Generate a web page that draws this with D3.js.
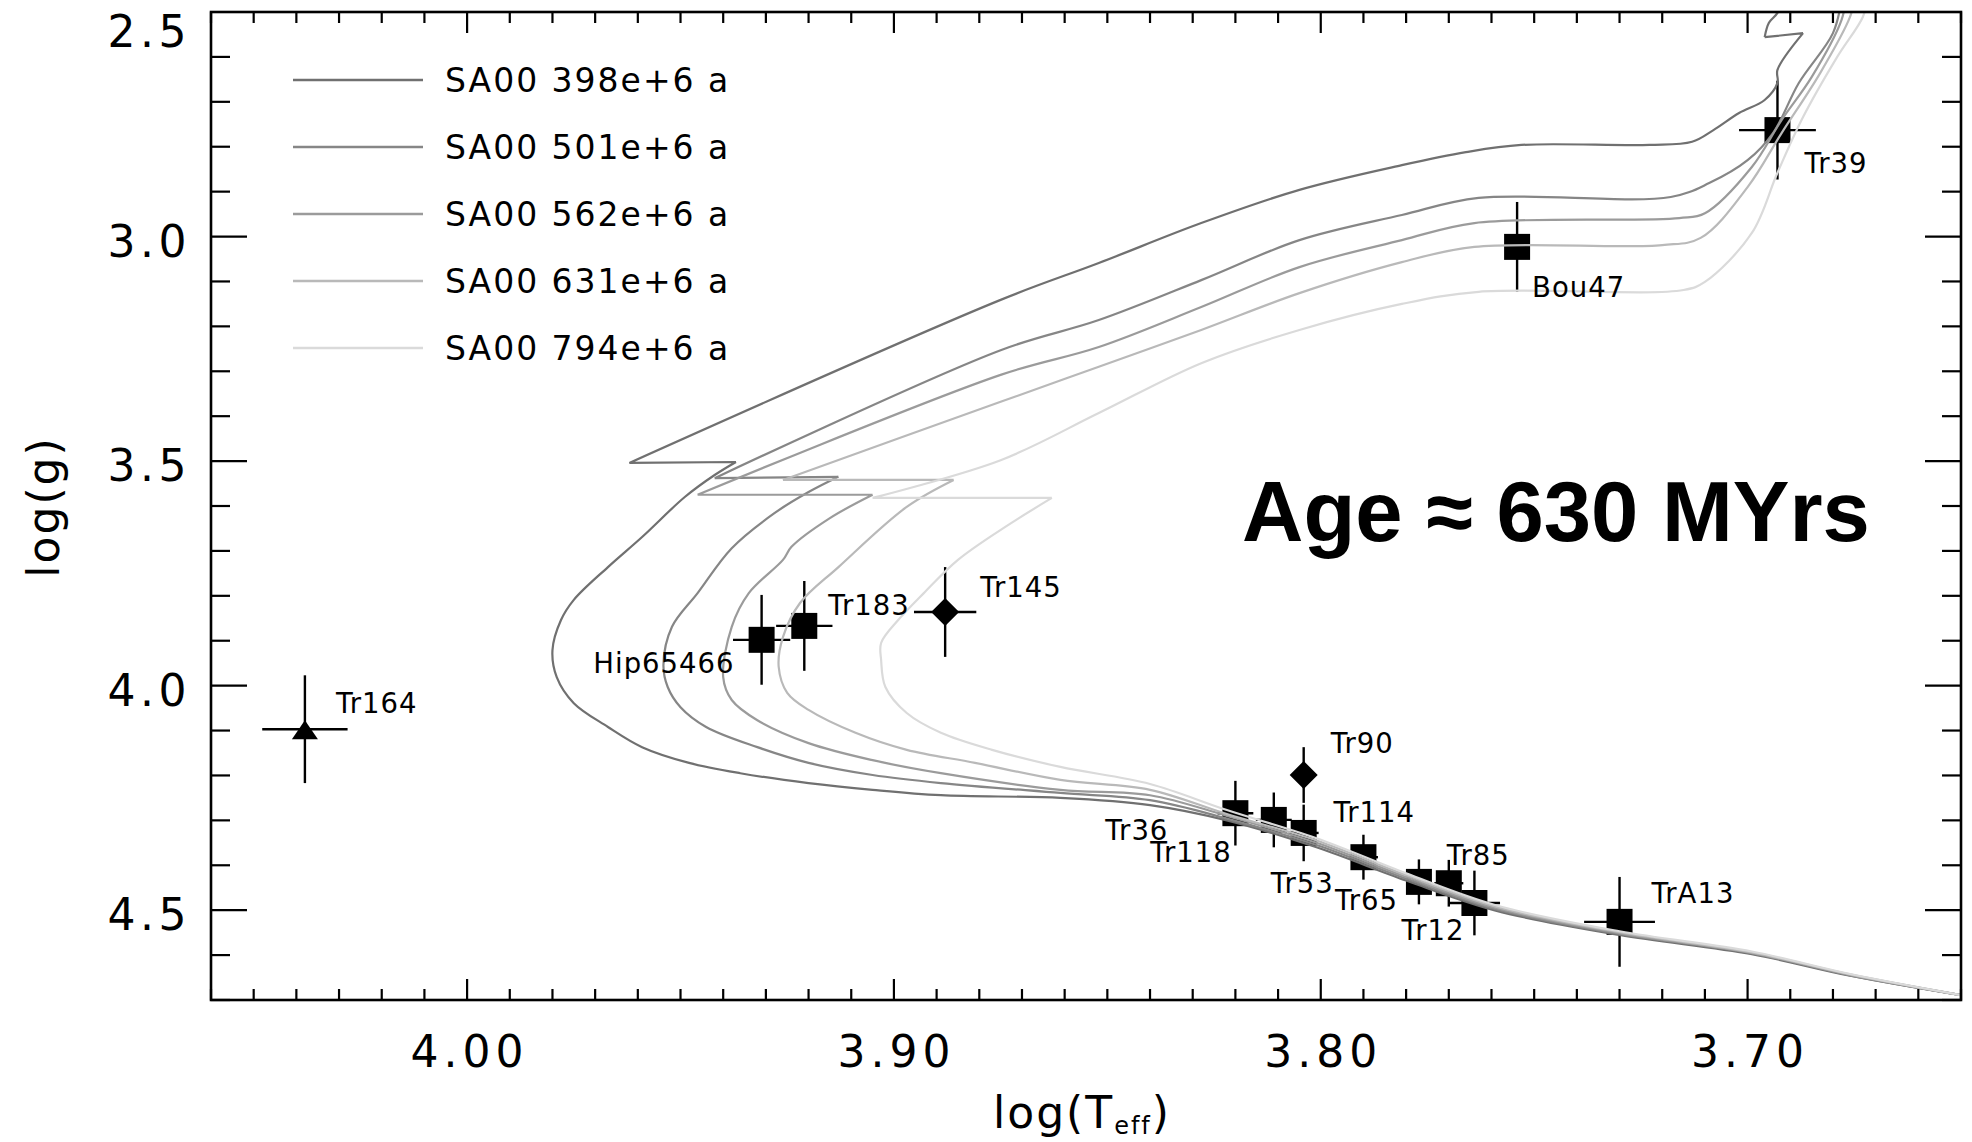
<!DOCTYPE html>
<html>
<head>
<meta charset="utf-8">
<script src="https://cdn.jsdelivr.net/npm/d3@7"></script>
<style>
  html, body { margin: 0; padding: 0; background: #ffffff; }
  svg { display: block; }
  text { font-family: "DejaVu Sans", sans-serif; fill: #000; }
</style>
</head>
<body>
<svg id="chart" width="1972" height="1142"></svg>
<script>
// ---- Isochrones (log Teff, log g), from the cool main-sequence end upward ----
const iso398 = [[3.650,4.689],[3.676,4.646],[3.699,4.598],[3.730,4.555],[3.759,4.501],[3.780,4.434],[3.801,4.360],[3.822,4.300],[3.840,4.266],[3.861,4.250],[3.889,4.244],[3.905,4.232],[3.920,4.217],[3.936,4.195],[3.948,4.172],[3.959,4.137],[3.967,4.092],[3.975,4.039],[3.979,3.981],[3.980,3.921],[3.978,3.854],[3.975,3.809],[3.967,3.736],[3.959,3.669],[3.949,3.580],[3.942,3.531],[3.937,3.502],[3.962,3.504],[3.875,3.141],[3.852,3.059],[3.828,2.970],[3.805,2.896],[3.781,2.841],[3.766,2.812],[3.753,2.796],[3.723,2.796],[3.713,2.789],[3.708,2.763],[3.702,2.725],[3.696,2.696],[3.693,2.658],[3.693,2.629],[3.687,2.547],[3.696,2.556],[3.695,2.524],[3.693,2.502],[3.692,2.473]];

const iso501 = [[3.650,4.689],[3.676,4.645],[3.699,4.596],[3.730,4.553],[3.759,4.498],[3.780,4.430],[3.801,4.355],[3.822,4.296],[3.840,4.255],[3.861,4.239],[3.889,4.217],[3.905,4.199],[3.920,4.172],[3.932,4.137],[3.944,4.092],[3.950,4.048],[3.953,4.003],[3.954,3.954],[3.952,3.869],[3.946,3.794],[3.938,3.694],[3.928,3.616],[3.920,3.569],[3.913,3.535],[3.942,3.538],[3.875,3.253],[3.852,3.186],[3.828,3.097],[3.805,3.008],[3.781,2.952],[3.763,2.914],[3.718,2.912],[3.709,2.881],[3.700,2.830],[3.694,2.769],[3.688,2.658],[3.680,2.547],[3.678,2.473]];

const iso562 = [[3.650,4.689],[3.676,4.644],[3.699,4.595],[3.730,4.551],[3.759,4.495],[3.780,4.426],[3.801,4.350],[3.822,4.290],[3.840,4.244],[3.861,4.232],[3.889,4.195],[3.905,4.166],[3.920,4.128],[3.932,4.077],[3.938,4.032],[3.940,3.981],[3.938,3.869],[3.934,3.794],[3.926,3.720],[3.924,3.691],[3.915,3.627],[3.905,3.575],[3.946,3.575],[3.875,3.308],[3.852,3.246],[3.828,3.157],[3.805,3.068],[3.781,3.008],[3.764,2.970],[3.716,2.959],[3.710,2.948],[3.699,2.845],[3.692,2.740],[3.685,2.645],[3.678,2.518],[3.677,2.473]];

const iso631 = [[3.650,4.689],[3.676,4.643],[3.699,4.594],[3.730,4.549],[3.759,4.492],[3.780,4.422],[3.801,4.345],[3.822,4.286],[3.840,4.232],[3.861,4.210],[3.881,4.172],[3.897,4.143],[3.909,4.105],[3.920,4.054],[3.925,4.016],[3.927,3.958],[3.926,3.892],[3.922,3.816],[3.913,3.736],[3.897,3.602],[3.886,3.542],[3.926,3.542],[3.875,3.368],[3.852,3.290],[3.828,3.208],[3.805,3.126],[3.781,3.057],[3.764,3.023],[3.720,3.019],[3.711,3.003],[3.700,2.890],[3.692,2.769],[3.683,2.636],[3.676,2.511],[3.675,2.473]];

const iso794 = [[3.650,4.689],[3.676,4.642],[3.699,4.592],[3.730,4.547],[3.759,4.489],[3.780,4.418],[3.801,4.340],[3.822,4.277],[3.840,4.219],[3.861,4.181],[3.877,4.143],[3.889,4.105],[3.897,4.061],[3.902,4.003],[3.903,3.943],[3.903,3.905],[3.899,3.854],[3.893,3.794],[3.885,3.720],[3.874,3.647],[3.863,3.582],[3.905,3.582],[3.875,3.498],[3.852,3.393],[3.828,3.282],[3.805,3.208],[3.781,3.150],[3.763,3.123],[3.715,3.119],[3.710,3.101],[3.699,2.992],[3.693,2.858],[3.687,2.734],[3.679,2.600],[3.673,2.511],[3.672,2.473]];

const isochrones = [iso398, iso501, iso562, iso631, iso794];
const isoLabels = ["SA00 398e+6 a", "SA00 501e+6 a", "SA00 562e+6 a", "SA00 631e+6 a", "SA00 794e+6 a"];
const isoColors = ["#707070", "#868686", "#9b9b9b", "#b9b9b9", "#dadada"];

// ---- Observed stars ----
const starNames  = ["Tr164","Hip65466","Tr183","Tr145","Tr90","Tr36","Tr118","Tr53","Tr114","Tr65","Tr85","Tr12","TrA13","Bou47","Tr39"];
const starLogT   = [4.038, 3.931, 3.921, 3.888, 3.804, 3.820, 3.811, 3.804, 3.790, 3.777, 3.770, 3.764, 3.730, 3.754, 3.693];
const starLogg   = [4.097, 3.898, 3.867, 3.836, 4.199, 4.284, 4.299, 4.328, 4.382, 4.437, 4.440, 4.484, 4.526, 3.023, 2.763];
const starErrT   = [0.010, 0.0067, 0.0066, 0.0073, 0.0, 0.0042, 0.0042, 0.0035, 0.0034, 0.0030, 0.0034, 0.0060, 0.0083, 0.0, 0.0090];
const starErrG   = [0.12, 0.10, 0.10, 0.10, 0.062, 0.072, 0.061, 0.063, 0.050, 0.050, 0.052, 0.072, 0.10, 0.10, 0.11];
const starSymbol = ["triangle","square","square","diamond","diamond","square","square","square","square","square","square","square","square","square","square"];

// label placement relative to each symbol (px)
const labelPlacement = {
  "Tr164":    {dx: 31,  dy: -16, anchor: "start"},
  "Hip65466": {dx: -27, dy: 33,  anchor: "end"},
  "Tr183":    {dx: 24,  dy: -11, anchor: "start"},
  "Tr145":    {dx: 35,  dy: -15, anchor: "start"},
  "Tr90":     {dx: 27,  dy: -22, anchor: "start"},
  "Tr36":     {dx: -67, dy: 27,  anchor: "end"},
  "Tr118":    {dx: -42, dy: 42,  anchor: "end"},
  "Tr53":     {dx: -33, dy: 60,  anchor: "start"},
  "Tr114":    {dx: -30, dy: -35, anchor: "start"},
  "Tr65":     {dx: -84, dy: 28,  anchor: "start"},
  "Tr85":     {dx: -2,  dy: -18, anchor: "start"},
  "Tr12":     {dx: -73, dy: 37,  anchor: "start"},
  "TrA13":    {dx: 32,  dy: -19, anchor: "start"},
  "Bou47":    {dx: 15,  dy: 50,  anchor: "start"},
  "Tr39":     {dx: 27,  dy: 43,  anchor: "start"}
};

// ---- Axes ----
const xDomain = [4.06, 3.65];
const yDomain = [2.5, 4.7];
const xMajorTicks = [4.00, 3.90, 3.80, 3.70];
const xTickLabels = ["4.00", "3.90", "3.80", "3.70"];
const yMajorTicks = [2.5, 3.0, 3.5, 4.0, 4.5];
const yTickLabels = ["2.5", "3.0", "3.5", "4.0", "4.5"];
const annotation = "Age \u2248 630 MYrs";

// ---- Drawing ----
const svg = d3.select("#chart");
const L = 211, R = 1961, T = 12, B = 1000;
const x = d3.scaleLinear().domain(xDomain).range([L, R]);
const y = d3.scaleLinear().domain(yDomain).range([T, B]);

svg.append("rect").attr("width", 1972).attr("height", 1142).attr("fill", "#fff");

svg.append("defs").append("clipPath").attr("id", "plotClip")
  .append("rect").attr("x", L).attr("y", T).attr("width", R - L).attr("height", B - T);

const plot = svg.append("g").attr("clip-path", "url(#plotClip)");

// stars: error bars then symbols
const stars = starNames.map((n, i) => ({
  name: n, t: starLogT[i], g: starLogg[i], et: starErrT[i], eg: starErrG[i], sym: starSymbol[i]
}));

const starG = plot.append("g");
stars.forEach(s => {
  const cx = x(s.t), cy = y(s.g);
  if (s.eg > 0) {
    starG.append("line").attr("x1", cx).attr("x2", cx)
      .attr("y1", y(s.g - s.eg)).attr("y2", y(s.g + s.eg))
      .attr("stroke", "#000").attr("stroke-width", 2.4);
  }
  if (s.et > 0) {
    starG.append("line").attr("y1", cy).attr("y2", cy)
      .attr("x1", x(s.t + s.et)).attr("x2", x(s.t - s.et))
      .attr("stroke", "#000").attr("stroke-width", 2.4);
  }
  let path;
  if (s.sym === "square") path = "M-13,-13H13V13H-13Z";
  else if (s.sym === "diamond") path = "M0,-14L14,0L0,14L-14,0Z";
  else path = "M0,-9L13,10L-13,10Z";
  starG.append("path").attr("d", path)
    .attr("transform", `translate(${cx},${cy})`)
    .attr("fill", "#000");
});

// star labels
const labelG = svg.append("g");
stars.forEach(s => {
  const p = labelPlacement[s.name];
  labelG.append("text")
    .attr("x", x(s.t) + p.dx)
    .attr("y", y(s.g) + p.dy)
    .attr("text-anchor", p.anchor)
    .attr("font-size", 27.5)
    .attr("letter-spacing", 1)
    .text(s.name);
});

// isochrone curves: smooth runs, split at sharp turns (the blue hook and the
// clump loop) so those corners stay crisp
const smooth = d3.line().x(d => x(d[0])).y(d => y(d[1])).curve(d3.curveCatmullRom.alpha(0.5));
function isoPath(pts) {
  const px = pts.map(d => [x(d[0]), y(d[1])]);
  const cuts = [0];
  for (let i = 1; i < px.length - 1; i++) {
    const ax = px[i][0] - px[i-1][0], ay = px[i][1] - px[i-1][1];
    const bx = px[i+1][0] - px[i][0], by = px[i+1][1] - px[i][1];
    const c = (ax * bx + ay * by) / (Math.hypot(ax, ay) * Math.hypot(bx, by) || 1);
    if (c < -0.3) cuts.push(i);
  }
  cuts.push(pts.length - 1);
  let d = "";
  for (let k = 0; k < cuts.length - 1; k++) {
    d += smooth(pts.slice(cuts[k], cuts[k+1] + 1));
  }
  return d;
}
isochrones.forEach((iso, i) => {
  plot.append("path")
    .attr("d", isoPath(iso))
    .attr("fill", "none")
    .attr("stroke", isoColors[i])
    .attr("stroke-width", 2.2)
    .attr("stroke-linejoin", "miter");
});

// legend
const legend = svg.append("g");
isoLabels.forEach((lab, i) => {
  const ly = 80 + i * 67;
  legend.append("line").attr("x1", 293).attr("x2", 423).attr("y1", ly).attr("y2", ly)
    .attr("stroke", isoColors[i]).attr("stroke-width", 2.4);
  legend.append("text").attr("x", 445).attr("y", ly + 12)
    .attr("font-size", 33).attr("letter-spacing", 2).text(lab);
});

// frame and ticks
const axisG = svg.append("g").attr("stroke", "#000");
axisG.append("rect").attr("x", L).attr("y", T).attr("width", R - L).attr("height", B - T)
  .attr("fill", "none").attr("stroke-width", 2.6);

const xMinor = d3.range(0, 42).map(i => +(3.65 + i * 0.01).toFixed(2))
  .filter(v => !xMajorTicks.some(m => Math.abs(m - v) < 1e-6));
const yMinor = d3.range(0, 23).map(i => +(2.5 + i * 0.1).toFixed(1))
  .filter(v => !yMajorTicks.some(m => Math.abs(m - v) < 1e-6));

function xTicks(vals, len) {
  vals.forEach(v => {
    const px = x(v);
    axisG.append("line").attr("x1", px).attr("x2", px).attr("y1", B).attr("y2", B - len).attr("stroke-width", 2.2);
    axisG.append("line").attr("x1", px).attr("x2", px).attr("y1", T).attr("y2", T + len).attr("stroke-width", 2.2);
  });
}
function yTicks(vals, len) {
  vals.forEach(v => {
    const py = y(v);
    axisG.append("line").attr("y1", py).attr("y2", py).attr("x1", L).attr("x2", L + len).attr("stroke-width", 2.2);
    axisG.append("line").attr("y1", py).attr("y2", py).attr("x1", R).attr("x2", R - len).attr("stroke-width", 2.2);
  });
}
xTicks(xMinor, 11);
xTicks(xMajorTicks, 21);
yTicks(yMinor, 19);
yTicks(yMajorTicks, 36);

// tick labels
xMajorTicks.forEach((v, i) => {
  svg.append("text").attr("x", x(v) + 2.5).attr("y", 1067)
    .attr("text-anchor", "middle").attr("font-size", 44).attr("letter-spacing", 5)
    .text(xTickLabels[i]);
});
yMajorTicks.forEach((v, i) => {
  svg.append("text").attr("x", 191).attr("y", Math.max(y(v) + 20, 47))
    .attr("text-anchor", "end").attr("font-size", 44).attr("letter-spacing", 4.5)
    .text(yTickLabels[i]);
});

// axis titles
const xt = svg.append("text").attr("x", 993).attr("y", 1128)
  .attr("font-size", 44).attr("letter-spacing", 2);
xt.append("tspan").text("log(T");
xt.append("tspan").attr("font-size", 24).attr("dy", 6).text("eff");
xt.append("tspan").attr("dy", -6).text(")");

svg.append("text").attr("transform", "translate(59,507) rotate(-90)")
  .attr("text-anchor", "middle").attr("font-size", 44).attr("letter-spacing", 2)
  .text("log(g)");

// annotation
svg.append("text").attr("x", 1242).attr("y", 541)
  .style("font-family", "'Liberation Sans', Arial, sans-serif")
  .attr("font-weight", "bold").attr("font-size", 85)
  .text(annotation);
</script>
</body>
</html>
